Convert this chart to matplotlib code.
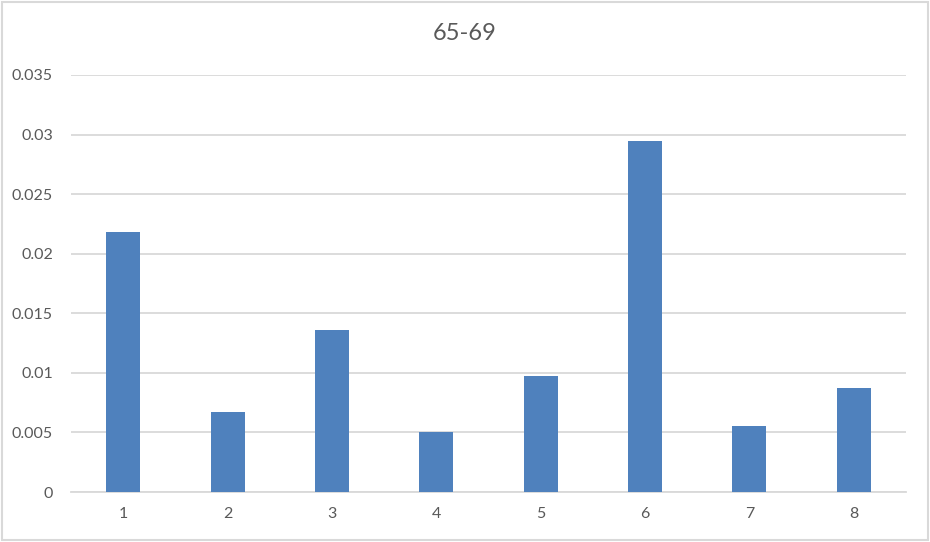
import matplotlib

matplotlib.use("Agg")
import matplotlib.pyplot as plt  # noqa: E402
from matplotlib.patches import Rectangle  # noqa: E402

categories = ["1", "2", "3", "4", "5", "6", "7", "8"]
values = [0.0218, 0.0067, 0.0136, 0.0050, 0.0097, 0.0295, 0.0055, 0.0087]
yticks = [0, 0.005, 0.01, 0.015, 0.02, 0.025, 0.03, 0.035]
ytick_labels = ["0", "0.005", "0.01", "0.015", "0.02", "0.025", "0.03", "0.035"]
title = "65-69"

TEXT = "#595959"
GRID = "#D9D9D9"
BAR = "#4F81BD"

plt.rcParams["font.family"] = ["Lato", "DejaVu Sans"]

fig = plt.figure(figsize=(9.3, 5.42), dpi=100)
ax = fig.add_axes([71 / 930, 50 / 542, 835 / 930, 417 / 542])

x = list(range(1, len(categories) + 1))
ax.bar(x, values, width=0.326, color=BAR, zorder=3)

ax.set_xlim(0.5, len(categories) + 0.5)
ax.set_ylim(0, 0.035)
ax.set_yticks(yticks)
ax.set_yticklabels(ytick_labels)
ax.set_xticks(x)
ax.set_xticklabels(categories)
ax.yaxis.grid(True, color=GRID, lw=1.3, zorder=0)
ax.tick_params(length=0, labelsize=11.5, colors=TEXT)
ax.tick_params(axis="y", pad=13)
ax.tick_params(axis="x", pad=11)
for side in ("top", "right", "left"):
    ax.spines[side].set_visible(False)
ax.spines["bottom"].set_color(GRID)
ax.spines["bottom"].set_linewidth(1.3)

fig.text(0.5, 1 - 33 / 542, title, ha="center", va="center", fontsize=17, color=TEXT)
fig.patches.append(Rectangle((0.002, 0.003), 0.996, 0.994, transform=fig.transFigure,
                             fill=False, edgecolor=GRID, lw=1.5))

fig.savefig("out.png", dpi=100)
